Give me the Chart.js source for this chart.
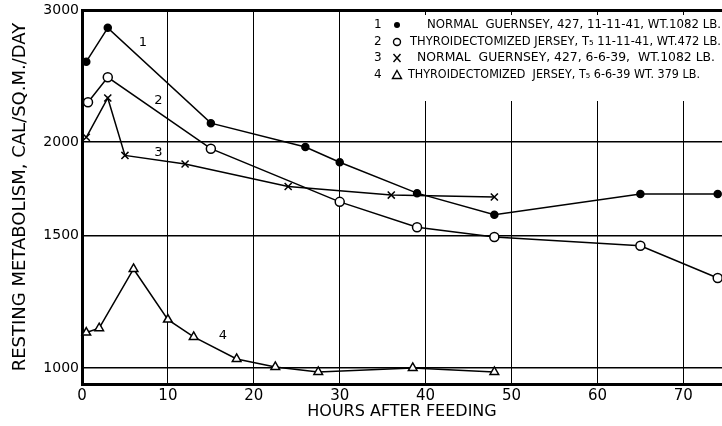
<!DOCTYPE html>
<html lang="en">
<head>
  <meta charset="UTF-8" />
  <title>Resting metabolism after feeding</title>
  <script src="https://cdn.jsdelivr.net/npm/chart.js"></script>
  <style>
    body{margin:0;padding:0;background:#fff}
    .wrap{width:722px;height:426px;position:relative}
  </style>
</head>
<body>
<div class="wrap"><canvas id="chart"></canvas></div>
<script>
// --- data --------------------------------------------------------------
const hours1=[0.5,3,15,26,30,39,48,65,74];
const metab1=[2560,2840,2120,1970,1880,1710,1600,1705,1705];
const hours2=[0.7,3,15,30,39,48,65,74];
const metab2=[2260,2440,1960,1665,1540,1495,1455,1318];
const hours3=[0.5,3,5,12,24,36,48];
const metab3=[2030,2290,1920,1870,1745,1700,1690];
const hours4=[0.5,2,6,10,13,18,22.5,27.5,38.5,48];
const metab4=[1115,1130,1355,1160,1100,1028,1003,988,1000,988];

const xTicks=[0,10,20,30,40,50,60,70];
const yTicks=[1000,1500,2000,3000];

// curve numbers written next to the lines
const curveNames=['1','2','3','4'];
const curveNameHours=[7.1,8.9,8.9,16.4];
const curveNameMetab=[2712,2275,1935,1103];

const legendNums=['1','2','3','4'];
const legendText=[
  'NORMAL  GUERNSEY, 427, 11-11-41, WT.1082 LB.',
  'THYROIDECTOMIZED JERSEY, T\u2085 11-11-41, WT.472 LB.',
  'NORMAL  GUERNSEY, 427, 6-6-39,  WT.1082 LB.',
  'THYROIDECTOMIZED  JERSEY, T\u2085 6-6-39 WT. 379 LB.'
];

const FONT='"DejaVu Sans", sans-serif';
const pts=(xs,ys)=>xs.map((x,i)=>({x:x,y:ys[i]}));

// --- marker helper for the hand-made legend -----------------------------
function marker(ctx,style,x,y){
  ctx.save();
  ctx.strokeStyle='#000';ctx.fillStyle='#000';ctx.lineWidth=1.4;
  ctx.beginPath();
  if(style==='dot'){ctx.arc(x,y,3,0,Math.PI*2);ctx.fill();}
  else if(style==='ring'){ctx.arc(x,y,3.5,0,Math.PI*2);ctx.stroke();}
  else if(style==='x'){ctx.moveTo(x-3.5,y-4);ctx.lineTo(x+3.5,y+4);ctx.moveTo(x+3.5,y-4);ctx.lineTo(x-3.5,y+4);ctx.stroke();}
  else {ctx.moveTo(x,y-4.5);ctx.lineTo(x+4.5,y+3.5);ctx.lineTo(x-4.5,y+3.5);ctx.closePath();ctx.stroke();}
  ctx.restore();
}

const annotations={
  id:'annotations',
  afterDraw(chart){
    const {ctx,scales:{x,y}}=chart;
    ctx.save();
    ctx.fillStyle='#000';
    ctx.font='13px '+FONT;
    ctx.textAlign='center';ctx.textBaseline='middle';
    curveNames.forEach((t,i)=>{
      ctx.fillText(t,x.getPixelForValue(curveNameHours[i]),y.getPixelForValue(curveNameMetab[i]));
    });
    // legend block, top right inside the plot
    ctx.fillStyle='#fff';
    ctx.fillRect(352,15,370,86);
    ctx.fillStyle='#000';
    const rowY=[25,42,58,75];
    const textX=[427,410,417,408];
    const textW=[294,311,298,292];
    const styles=['dot','ring','x','tri'];
    ctx.font='12px '+FONT;
    ctx.textAlign='left';
    legendText.forEach((t,i)=>{
      ctx.fillText(legendNums[i],374,rowY[i]);
      marker(ctx,styles[i],397,rowY[i]);
      const w=ctx.measureText(t).width;
      ctx.save();
      ctx.translate(textX[i],rowY[i]);
      ctx.scale(textW[i]/w,1);
      ctx.fillText(t,0,0);
      ctx.restore();
    });
    ctx.restore();
  }
};

const line={borderColor:'#000',borderWidth:1.5,showLine:true,tension:0,pointBorderColor:'#000',pointBorderWidth:1.5,clip:false};

new Chart(document.getElementById('chart'),{
  type:'scatter',
  data:{datasets:[
    Object.assign({label:'1',data:pts(hours1,metab1),pointStyle:'circle',pointRadius:3.5,pointBackgroundColor:'#000'},line),
    Object.assign({label:'2',data:pts(hours2,metab2),pointStyle:'circle',pointRadius:4.5,pointBackgroundColor:'#fff'},line),
    Object.assign({label:'3',data:pts(hours3,metab3),pointStyle:'crossRot',pointRadius:5,pointBackgroundColor:'#fff'},line),
    Object.assign({label:'4',data:pts(hours4,metab4),pointStyle:'triangle',pointRadius:5,pointBackgroundColor:'#fff'},line)
  ]},
  options:{
    responsive:true,maintainAspectRatio:false,animation:false,
    layout:{autoPadding:false,padding:{top:10,right:0,left:0,bottom:0}},
    plugins:{legend:{display:false},tooltip:{enabled:false}},
    scales:{
      x:{
        type:'linear',min:0,max:74.5,
        afterBuildTicks:s=>{s.ticks=xTicks.map(v=>({value:v}));},
        afterFit:s=>{s.height=42;s.paddingLeft=0;s.paddingRight=0;},
        grid:{color:'#000',lineWidth:1,drawTicks:false},
        border:{color:'#000',width:3},
        ticks:{color:'#000',font:{family:FONT,size:15},padding:3,maxRotation:0},
        title:{display:true,text:'HOURS AFTER FEEDING',color:'#000',font:{family:FONT,size:16},padding:{top:0,bottom:5}}
      },
      y:{
        type:'logarithmic',min:952,max:3000,
        afterBuildTicks:s=>{s.ticks=yTicks.map(v=>({value:v}));},
        afterFit:s=>{s.width=82;s.paddingTop=0;s.paddingBottom=0;},
        grid:{color:'#000',lineWidth:c=>c.tick&&c.tick.value===3000?3:1.5,drawTicks:false},
        border:{color:'#000',width:3},
        ticks:{color:'#000',font:{family:FONT,size:14},padding:3,callback:v=>String(v)},
        title:{display:true,text:'RESTING METABOLISM, CAL/SQ.M./DAY',color:'#000',font:{family:FONT,size:18},padding:{top:10,bottom:0}}
      }
    }
  },
  plugins:[annotations]
});
</script>
</body>
</html>
